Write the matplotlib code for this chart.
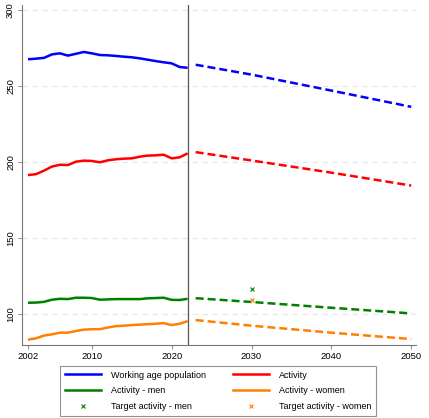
import matplotlib
matplotlib.use("Agg")
import matplotlib.pyplot as plt
from matplotlib.lines import Line2D

plt.rcParams['font.family'] = ['Liberation Sans', 'DejaVu Sans']

years_hist = list(range(2002, 2023))
years_proj = [2023, 2030, 2040, 2050]

wap_hist = [267.6, 268.0, 268.5, 270.8, 271.5, 270.0, 271.2, 272.4, 271.5, 270.4, 270.2,
            269.8, 269.3, 268.9, 268.2, 267.3, 266.4, 265.6, 264.9, 262.5, 262.0]
wap_proj = [264.0, 257.5, 247.0, 236.3]

act_hist = [191.4, 192.0, 194.3, 197.0, 198.2, 198.0, 200.2, 200.9, 200.7, 199.8, 201.1,
            201.8, 202.2, 202.4, 203.5, 204.2, 204.4, 204.8, 202.4, 203.1, 205.7]
act_proj = [206.5, 201.0, 193.0, 184.5]

men_hist = [107.4, 107.5, 108.0, 109.4, 110.0, 109.8, 110.7, 110.7, 110.5, 109.4, 109.6,
            109.8, 109.8, 109.8, 109.8, 110.3, 110.5, 110.7, 109.3, 109.2, 110.0]
men_proj = [110.4, 107.9, 104.1, 100.4]

women_hist = [83.1, 84.0, 85.8, 86.6, 87.7, 87.7, 88.8, 89.7, 90.0, 90.0, 91.1,
              92.0, 92.3, 92.7, 93.0, 93.3, 93.6, 94.0, 92.7, 93.6, 95.3]
women_proj = [96.0, 92.3, 87.7, 83.5]

target_year = 2030
target_men = 116.7
target_women = 109.2

x_ticks = [2002, 2010, 2020, 2030, 2040, 2050]
y_ticks = [100, 150, 200, 250, 300]

fig = plt.figure(figsize=(4.29, 4.18), dpi=100)
ax = fig.add_axes([22/429, 1-345/418, (416-22)/429, (345-5)/418])

lw = 1.8
dash = (3.2, 1.6)
series = [
    ("Working age population", wap_hist, wap_proj, "#0000ff"),
    ("Activity", act_hist, act_proj, "#ff0000"),
    ("Activity - men", men_hist, men_proj, "#008000"),
    ("Activity - women", women_hist, women_proj, "#ff7f00"),
]
handles = []
for name, h, p, c in series:
    ax.plot(years_hist, h, color=c, lw=lw, solid_capstyle='butt')
    ax.plot(years_proj, p, color=c, lw=lw, dashes=dash)
    handles.append(Line2D([], [], color=c, lw=lw, label=name))

hm, = ax.plot([target_year], [target_men], 'x', color="#008000", ms=3.5, mew=0.8,
              linestyle='none', label="Target activity - men")
hw, = ax.plot([target_year], [target_women], 'x', color="#ff7f00", ms=3.5, mew=0.8,
              linestyle='none', label="Target activity - women")

ax.axvline(2022, color="#555555", lw=0.9)

ax.set_xlim(2001.25, 2050.6)
ax.set_ylim(79.6, 303.3)
ax.set_xticks(x_ticks)
ax.set_yticks(y_ticks)
ax.set_yticklabels([str(v) for v in y_ticks], rotation=90, va='center')
ax.tick_params(labelsize=6.8, color="#777777", length=3, width=0.6, pad=2)
for s in ['top', 'right']:
    ax.spines[s].set_visible(False)
for s in ['left', 'bottom']:
    ax.spines[s].set_color("#777777")
    ax.spines[s].set_linewidth(0.8)
ax.yaxis.grid(True, color="#e6e6e6", lw=0.8, dashes=(5, 4))
ax.set_axisbelow(True)

# column-wise fill: col1 = WAP, men, target men ; col2 = activity, women, target women
order = [handles[0], handles[2], hm, handles[1], handles[3], hw]
leg = fig.legend(handles=order, ncol=2, loc='upper left',
                 bbox_to_anchor=(60/429, 1-366/418), fontsize=6.5,
                 frameon=True, fancybox=False, edgecolor="#777777",
                 handlelength=4.0, handletextpad=1.1, columnspacing=3.0,
                 labelspacing=0.75, borderpad=0.5, borderaxespad=0)
leg.get_frame().set_linewidth(0.8)

fig.savefig("out.png", dpi=100)
